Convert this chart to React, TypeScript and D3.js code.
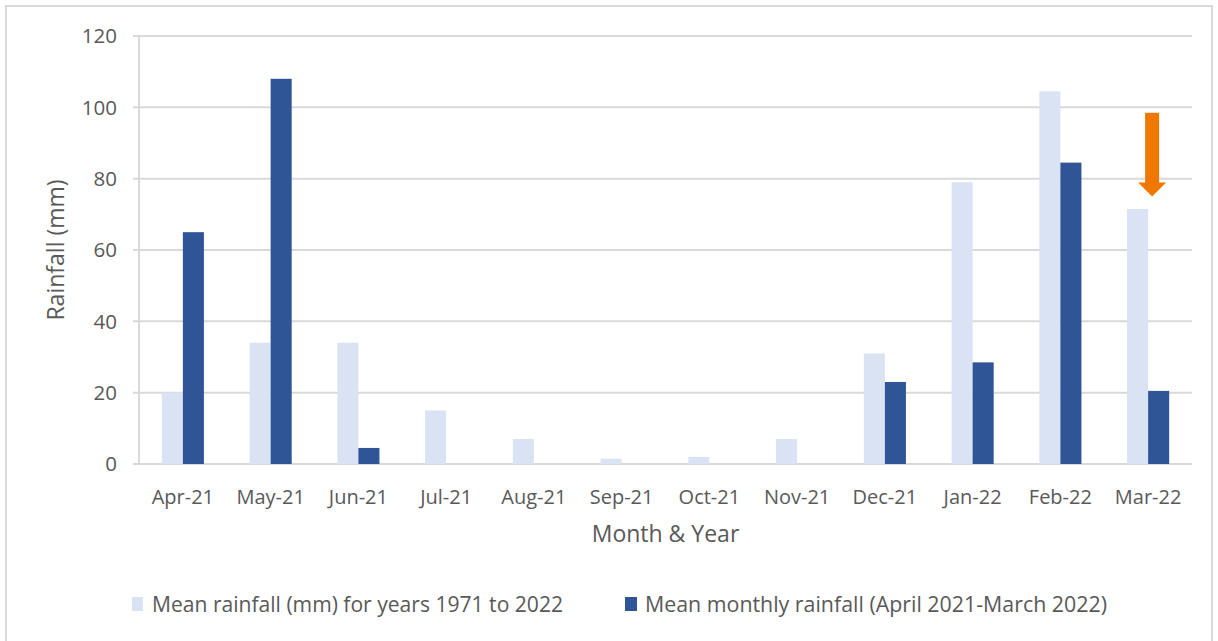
import React from 'react';
import * as d3 from 'd3';

const months = ['Apr-21', 'May-21', 'Jun-21', 'Jul-21', 'Aug-21', 'Sep-21', 'Oct-21', 'Nov-21', 'Dec-21', 'Jan-22', 'Feb-22', 'Mar-22'];
const longTermMean = [20, 34, 34, 15, 7, 1.5, 2, 7, 31, 79, 104.5, 71.5];
const monthlyMean = [65, 108, 4.5, 0, 0, 0, 0, 0, 23, 28.5, 84.5, 20.5];
const yTicks = [0, 20, 40, 60, 80, 100, 120];
const seriesNames = ['Mean rainfall (mm) for years 1971 to 2022', 'Mean monthly rainfall (April 2021-March 2022)'];
const seriesColors = ['#DAE3F3', '#2F5597'];
// arrow over the last month: from 98 down to 75 mm
const arrowMonth = 'Mar-22';
const arrowFrom = 98.5;
const arrowTo = 75;

const W = 1218;
const H = 641;
const margin = { top: 36, right: 26, bottom: 177, left: 139 };
const font = "'Open Sans', 'Noto Sans', sans-serif";

const App: React.FC = () => {
  const innerW = W - margin.left - margin.right;
  const innerH = H - margin.top - margin.bottom;

  const x = d3.scaleBand<string>().domain(months).range([0, innerW]).paddingInner(0.52).paddingOuter(0.26);
  const sub = d3.scaleBand<number>().domain([0, 1]).range([0, x.bandwidth()]);
  const y = d3.scaleLinear().domain([0, 120]).range([innerH, 0]);

  const series = [longTermMean, monthlyMean];

  const ax = (x(arrowMonth) ?? 0) + x.bandwidth() / 2 + 4;
  const yTop = y(arrowFrom);
  const yTip = y(arrowTo);
  const headH = 14;
  const arrowPath = `M${ax - 7},${yTop} L${ax + 7},${yTop} L${ax + 7},${yTip - headH} L${ax + 14},${yTip - headH} L${ax},${yTip} L${ax - 14},${yTip - headH} L${ax - 7},${yTip - headH} Z`;

  return (
    <svg width={W} height={H} style={{ position: 'absolute', left: 0, top: 0, background: '#fff' }}>
      <rect x={6} y={6} width={W - 12} height={H} fill="#fff" stroke="#d9d9d9" strokeWidth={2} />
      <g transform={`translate(${margin.left},${margin.top})`}>
        {yTicks.map(t => (
          <g key={t}>
            <line x1={-6} x2={innerW} y1={y(t)} y2={y(t)} stroke="#d9d9d9" strokeWidth={2} />
            <text x={-22} y={y(t)} dy="0.35em" textAnchor="end" fontFamily={font} fontSize={20.5} fill="#595959">{t}</text>
          </g>
        ))}
        <line x1={0} x2={0} y1={0} y2={innerH} stroke="#d9d9d9" strokeWidth={2} />
        {series.map((vals, si) =>
          vals.map((v, i) => (v > 0 ? (
            <rect key={`${si}-${i}`} x={(x(months[i]) ?? 0) + (sub(si) ?? 0)} y={y(v)} width={sub.bandwidth()} height={y(0) - y(v)} fill={seriesColors[si]} />
          ) : null))
        )}
        {months.map(m => (
          <text key={m} x={(x(m) ?? 0) + x.bandwidth() / 2} y={innerH + 40} textAnchor="middle" fontFamily={font} fontSize={20} fill="#595959">{m}</text>
        ))}
        <path d={arrowPath} fill="#F07800" />
        <text x={innerW / 2} y={innerH + 78} textAnchor="middle" fontFamily={font} fontSize={23} fill="#595959">Month &amp; Year</text>
        <text transform={`translate(${-75},${innerH / 2}) rotate(-90)`} textAnchor="middle" fontFamily={font} fontSize={23} fill="#595959">Rainfall (mm)</text>
      </g>
      <g>
        <rect x={132} y={597} width={11} height={14} fill={seriesColors[0]} />
        <text x={152} y={612} fontFamily={font} fontSize={21} fill="#595959" textLength={411} lengthAdjust="spacingAndGlyphs">{seriesNames[0]}</text>
        <rect x={625} y={597} width={12} height={14} fill={seriesColors[1]} />
        <text x={645} y={612} fontFamily={font} fontSize={21} fill="#595959" textLength={462} lengthAdjust="spacingAndGlyphs">{seriesNames[1]}</text>
      </g>
    </svg>
  );
};

export default App;
